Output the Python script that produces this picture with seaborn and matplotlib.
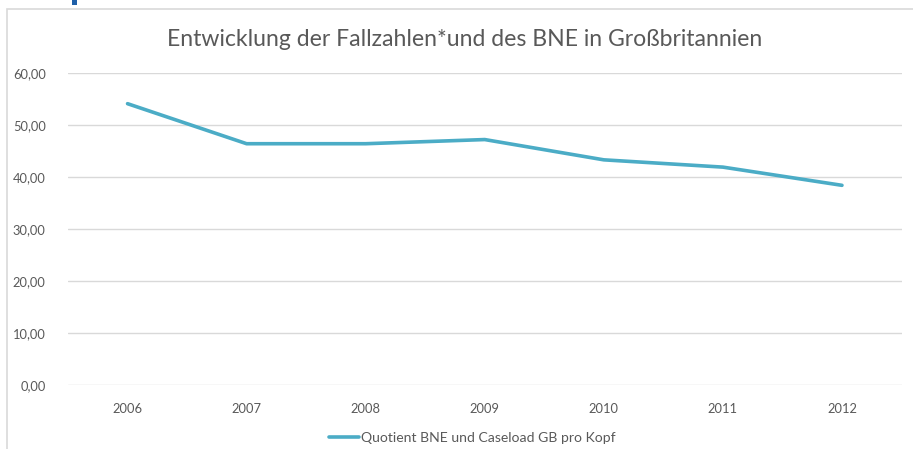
import matplotlib
matplotlib.use("Agg")
import matplotlib.pyplot as plt
import seaborn as sns
import pandas as pd
from matplotlib.patches import Rectangle
from matplotlib.lines import Line2D

# Quotient aus BNE und Caseload (GB, pro Kopf)
years = ["2006", "2007", "2008", "2009", "2010", "2011", "2012"]
quotient = [54.1, 46.4, 46.4, 47.2, 43.3, 41.9, 38.4]
y_ticks = [0, 10, 20, 30, 40, 50, 60]

title = "Entwicklung der Fallzahlen*und des BNE in Großbritannien"
series_label = "Quotient BNE und Caseload GB pro Kopf"

sns.set_theme(style="white")
plt.rcParams["font.family"] = ["Lato", "DejaVu Sans"]

text_grey = "#595959"
grid_grey = "#d9d9d9"
line_blue = "#4bacc6"

df = pd.DataFrame({"Jahr": years, "Wert": quotient})
df["pos"] = range(len(years))

fig = plt.figure(figsize=(9.13, 4.49), dpi=100)
ax = fig.add_axes([68 / 913, 1 - 385 / 449, (901.5 - 68) / 913, (385 - 73) / 449])

# chart frame
fig.patches.append(Rectangle((7 / 913, -0.01), 1.0, 1 - 8.5 / 449 + 0.01,
                             transform=fig.transFigure, fill=False,
                             edgecolor=grid_grey, linewidth=1.2))
# slide heading fragment above the chart
fig.patches.append(Rectangle((72 / 913, 1 - 5 / 449), 5 / 913, 5 / 449,
                             transform=fig.transFigure, facecolor="#1f5fa8",
                             edgecolor="none"))

sns.lineplot(data=df, x="pos", y="Wert", ax=ax, color=line_blue,
             linewidth=2.6, legend=False)

ax.set_xlim(-0.5, len(years) - 0.5)
ax.set_ylim(0, 60)
ax.set_yticks(y_ticks)
ax.set_yticklabels([f"{v:.2f}".replace(".", ",") for v in y_ticks])
ax.set_xticks(range(len(years)))
ax.set_xticklabels(years)
ax.yaxis.grid(True, color=grid_grey, linewidth=1.0)
ax.set_axisbelow(True)
for s in ax.spines.values():
    s.set_visible(False)
ax.tick_params(axis="both", length=0, labelsize=9.3, colors=text_grey)
ax.tick_params(axis="y", pad=16)
ax.tick_params(axis="x", pad=13)
ax.set_xlabel("")
ax.set_ylabel("")

fig.text(465 / 913, 1 - 40 / 449, title, ha="center", va="center",
         fontsize=16.6, color=text_grey)

handle = Line2D([], [], color=line_blue, linewidth=2.6)
fig.legend([handle], [series_label], loc="center", bbox_to_anchor=(472 / 913, 1 - 438 / 449),
           frameon=False, fontsize=10.1, labelcolor=text_grey, handlelength=2.2,
           handletextpad=0.1)

fig.savefig("out.png", dpi=100, facecolor="white")
